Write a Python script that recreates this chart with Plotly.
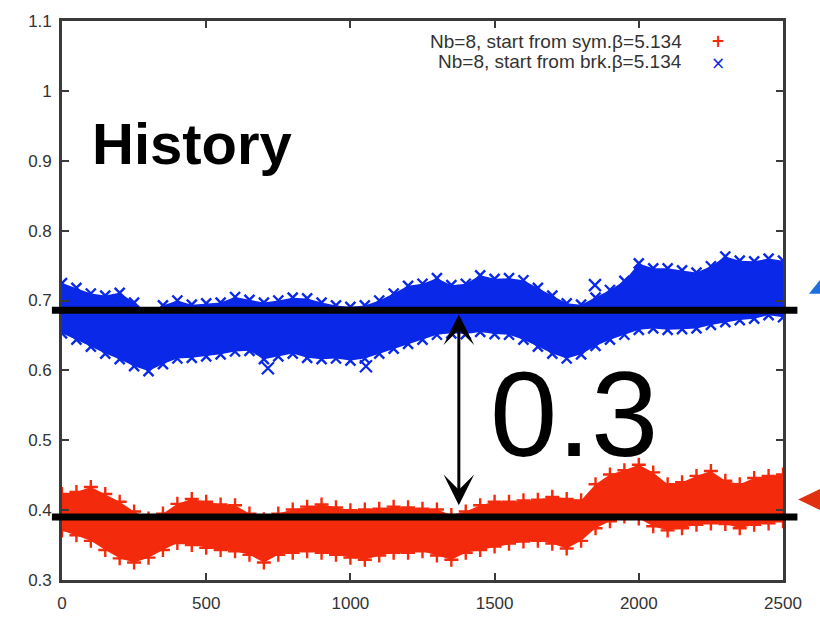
import plotly.graph_objects as go

# Monte Carlo step grid at which the band edges are recorded
steps = list(range(0, 2501, 50))

# Run started from the symmetric configuration (red): lower / upper edge of the history band
sym_lower = [0.371, 0.364, 0.356, 0.343, 0.331, 0.325, 0.332, 0.343, 0.353, 0.350,
             0.346, 0.343, 0.341, 0.336, 0.325, 0.336, 0.339, 0.341, 0.339, 0.336,
             0.332, 0.329, 0.335, 0.339, 0.339, 0.341, 0.335, 0.329, 0.339, 0.343,
             0.348, 0.352, 0.355, 0.356, 0.352, 0.345, 0.356, 0.374, 0.384, 0.391,
             0.388, 0.377, 0.371, 0.374, 0.379, 0.381, 0.380, 0.374, 0.379, 0.381,
             0.384]
sym_upper = [0.423, 0.426, 0.433, 0.423, 0.412, 0.398, 0.388, 0.395, 0.409, 0.416,
             0.412, 0.408, 0.407, 0.395, 0.387, 0.395, 0.401, 0.405, 0.408, 0.404,
             0.400, 0.401, 0.402, 0.405, 0.404, 0.402, 0.401, 0.393, 0.398, 0.407,
             0.412, 0.412, 0.414, 0.415, 0.419, 0.416, 0.414, 0.437, 0.451, 0.457,
             0.465, 0.454, 0.437, 0.440, 0.449, 0.456, 0.442, 0.437, 0.446, 0.449,
             0.451]

# Run started from the broken configuration (blue): lower / upper edge of the history band
brk_lower = [0.653, 0.644, 0.634, 0.624, 0.616, 0.606, 0.599, 0.609, 0.617, 0.618,
             0.620, 0.623, 0.627, 0.628, 0.616, 0.620, 0.624, 0.618, 0.616, 0.617,
             0.614, 0.617, 0.624, 0.631, 0.638, 0.644, 0.651, 0.653, 0.652, 0.655,
             0.652, 0.651, 0.644, 0.634, 0.624, 0.617, 0.623, 0.635, 0.644, 0.651,
             0.658, 0.660, 0.658, 0.659, 0.660, 0.665, 0.669, 0.672, 0.674, 0.679,
             0.676]
brk_upper = [0.725, 0.718, 0.710, 0.707, 0.711, 0.697, 0.681, 0.693, 0.700, 0.694,
             0.696, 0.697, 0.705, 0.701, 0.697, 0.700, 0.704, 0.703, 0.697, 0.693,
             0.691, 0.693, 0.700, 0.710, 0.721, 0.724, 0.732, 0.722, 0.724, 0.736,
             0.731, 0.732, 0.729, 0.718, 0.707, 0.696, 0.694, 0.704, 0.715, 0.728,
             0.753, 0.746, 0.746, 0.743, 0.740, 0.749, 0.763, 0.757, 0.756, 0.760,
             0.757]

# Isolated configurations of the broken-start run lying off the main band
brk_out_steps = [714, 1054, 1848]
brk_out_vals = [0.603, 0.606, 0.722]

# Levels of the two plateaus and the gap between them
level_brk = 0.686
level_sym = 0.390
gap_label = "0.3"

legend_labels = ["Nb=8, start from sym.\u03b2=5.134", "Nb=8, start from brk.\u03b2=5.134"]
x_ticks = [0, 500, 1000, 1500, 2000, 2500]
y_ticks = [0.3, 0.4, 0.5, 0.6, 0.7, 0.8, 0.9, 1.0, 1.1]

RED = "#f42a0c"
BLUE = "#0a28e8"
AXIS = "#3a3a3a"
FONT = "Liberation Sans, Arial, sans-serif"

fig = go.Figure()


def band(lower, upper, color, symbol, name):
    # solid area between the two edges
    fig.add_trace(go.Scatter(x=steps, y=lower, mode="lines", line=dict(width=0, color=color),
                             showlegend=False, hoverinfo="skip"))
    fig.add_trace(go.Scatter(x=steps, y=upper, mode="lines", line=dict(width=0, color=color),
                             fill="tonexty", fillcolor=color, showlegend=False, hoverinfo="skip"))
    # ragged edges made of the point symbols
    mk = dict(symbol=symbol, size=10, color=color, line=dict(color=color, width=2.4))
    for edge in (lower, upper):
        fig.add_trace(go.Scatter(x=steps, y=edge, mode="markers", marker=mk,
                                 showlegend=False, name=name))


band(sym_lower, sym_upper, RED, "cross-thin", legend_labels[0])
band(brk_lower, brk_upper, BLUE, "x-thin", legend_labels[1])
fig.add_trace(go.Scatter(x=brk_out_steps, y=brk_out_vals, mode="markers",
                         marker=dict(symbol="x-thin", size=12, color=BLUE,
                                     line=dict(color=BLUE, width=2.2)),
                         showlegend=False))

axis_common = dict(showline=True, linecolor=AXIS, linewidth=2.6, mirror="ticks",
                   ticks="inside", ticklen=7, tickwidth=1.6, tickcolor=AXIS,
                   showgrid=False, zeroline=False,
                   tickfont=dict(family=FONT, size=17, color="#333333"))

fig.update_xaxes(range=[0, 2500], tickvals=x_ticks, ticklabelstandoff=6, **axis_common)
fig.update_yaxes(range=[0.3, 1.1], tickvals=y_ticks,
                 ticktext=[f"{v:g}" for v in y_ticks], ticklabelstandoff=4, **axis_common)

# Plateau markers extending slightly past both axes
shapes = []
for lvl in (level_brk, level_sym):
    shapes.append(dict(type="line", xref="paper", yref="y", x0=-0.014, x1=1.02,
                       y0=lvl, y1=lvl, line=dict(color="black", width=7)))

# Pointers on the right-hand side
shapes.append(dict(type="path", xref="paper", yref="paper",
                   path="M1.036,0.512 L1.083,0.512 L1.060,0.551 Z",
                   fillcolor="#1c6fdc", line=dict(width=0)))
shapes.append(dict(type="path", xref="paper", yref="paper",
                   path="M1.021,0.144 L1.058,0.167 L1.058,0.121 Z",
                   fillcolor="#e0300e", line=dict(width=0)))

key_x = (684 - 62) / 721
annotations = [
    # double-headed arrow spanning the gap
    dict(x=1376, y=level_brk - 0.006, ax=1376, ay=level_sym + 0.015,
         xref="x", yref="y", axref="x", ayref="y", text="",
         showarrow=True, arrowhead=3, startarrowhead=3, arrowside="end+start",
         arrowwidth=3, arrowsize=1.7, startarrowsize=1.7, arrowcolor="black",
         standoff=0, startstandoff=0),
    dict(x=1775, y=0.537, xref="x", yref="y", text=gap_label, showarrow=False,
         font=dict(family=FONT, size=121, color="black"), xanchor="center", yanchor="middle"),
    dict(x=0.039, y=0.78, xref="paper", yref="paper", text="<b>History</b>", showarrow=False,
         font=dict(family=FONT, size=58, color="black"), xanchor="left", yanchor="middle"),
    # key: labels and their point symbols
    dict(x=key_x, y=(588 - 39) / 570, xref="paper", yref="paper",
         text=legend_labels[0], showarrow=False, xanchor="right", yanchor="middle",
         font=dict(family=FONT, size=19, color="#333333")),
    dict(x=key_x, y=(588 - 59) / 570, xref="paper", yref="paper",
         text=legend_labels[1], showarrow=False, xanchor="right", yanchor="middle",
         font=dict(family=FONT, size=19, color="#333333")),
    dict(x=(718 - 62) / 721, y=(588 - 50) / 570, xref="paper", yref="paper",
         text=f"<span style='color:{RED}'><b>+</b></span><br>"
              f"<span style='color:{BLUE}'>\u00d7</span>",
         showarrow=False, xanchor="center", yanchor="middle", align="center",
         font=dict(family="DejaVu Sans", size=17, color=RED)),
    # tick labels of the panel above, cut off by the page edge
    dict(x=(603 - 62) / 721, y=(588 + 2) / 570, xref="paper", yref="paper",
         text="5.125", showarrow=False, xanchor="center", yanchor="bottom",
         font=dict(family=FONT, size=22, color="#333333")),
    dict(x=(780 - 62) / 721, y=(588 + 2) / 570, xref="paper", yref="paper",
         text="5.15", showarrow=False, xanchor="center", yanchor="bottom",
         font=dict(family=FONT, size=22, color="#333333")),
]

fig.update_layout(width=820, height=625, margin=dict(l=62, r=37, t=18, b=37),
                  paper_bgcolor="white", plot_bgcolor="white",
                  shapes=shapes, annotations=annotations, showlegend=False)

fig.write_html("out.html")
